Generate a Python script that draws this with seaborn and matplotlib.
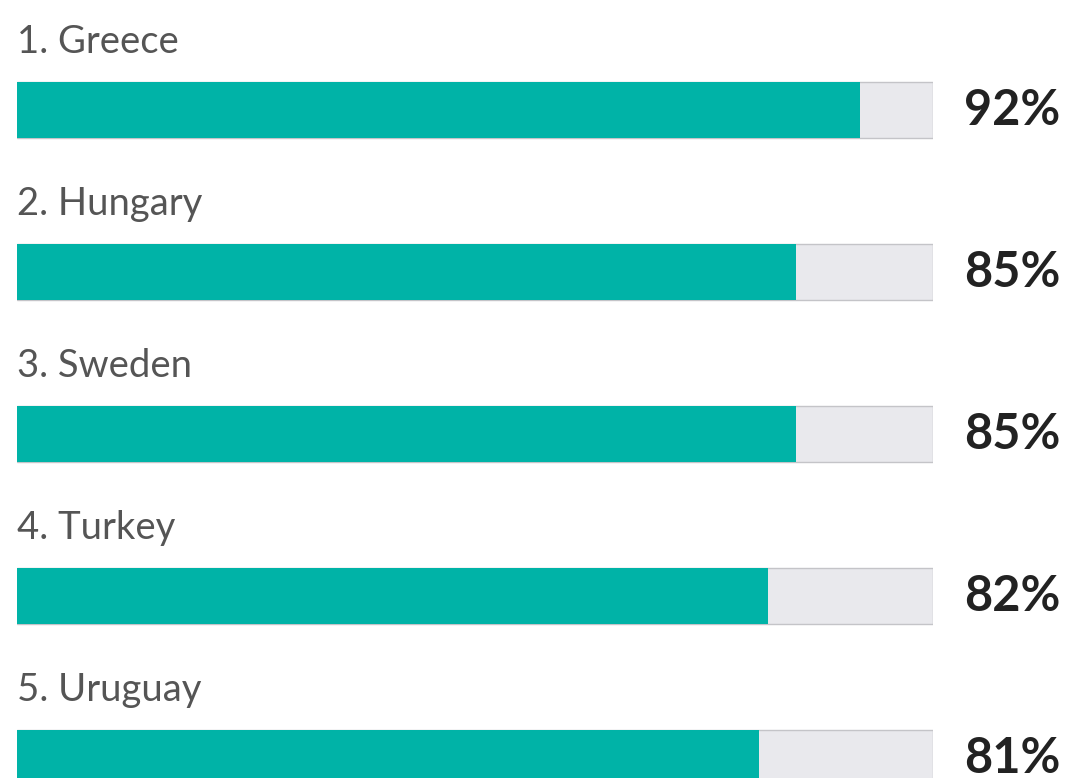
import matplotlib
matplotlib.use("Agg")
import matplotlib.pyplot as plt
import seaborn as sns

countries = ["Greece", "Hungary", "Sweden", "Turkey", "Uruguay"]
values = [92, 85, 85, 82, 81]
full = [100, 100, 100, 100, 100]

sns.set_theme(style="white")
plt.rcParams["font.family"] = ["Lato", "DejaVu Sans"]

fig = plt.figure(figsize=(10.7, 7.78), dpi=100)
ax = fig.add_axes([17 / 1070, 0, 916 / 1070, 1])

bar_h = 56 / 162

# grey track behind each bar
sns.barplot(x=full, y=countries, color="#e9e9ed", width=bar_h, edgecolor="#c4c4c8",
            linewidth=1, saturation=1, orient="h", ax=ax)
sns.barplot(x=values, y=countries, color="#00b3a7", width=bar_h, linewidth=0,
            saturation=1, orient="h", ax=ax)

for i, (c, v) in enumerate(zip(countries, values)):
    ax.text(0, i - 0.42, f"{i + 1}. {c}", fontsize=27.5, color="#555555",
            ha="left", va="center")
    ax.text(113.9, i, f"{v}%", fontsize=35, fontweight="bold", color="#222222",
            ha="right", va="center")

ax.set_xlim(0, 100)
ax.set_ylim(4.123, -0.679)
ax.axis("off")

fig.savefig("out.png", dpi=100)
